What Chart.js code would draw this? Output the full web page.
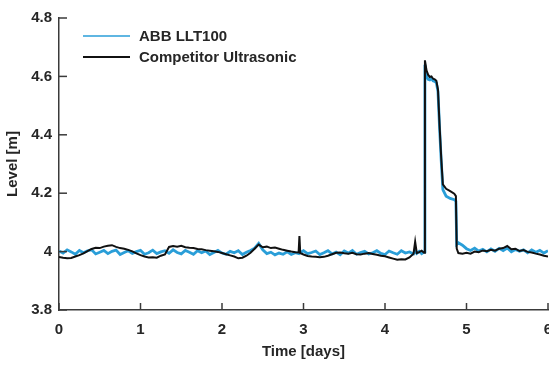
<!DOCTYPE html>
<html>
<head>
<meta charset="utf-8">
<script src="https://cdn.jsdelivr.net/npm/chart.js@4.4.1/dist/chart.umd.min.js"></script>
<style>
  body { margin: 0; background: #fff; }
  canvas { display: block; }
</style>
</head>
<body>
<canvas id="chart" width="549" height="365"></canvas>
<script>
// time axis (days), shared by both sensors
const days = [
  0.00, 0.05, 0.10, 0.15, 0.20, 0.25, 0.30, 0.35, 0.40, 0.45,
  0.50, 0.55, 0.60, 0.65, 0.70, 0.75, 0.80, 0.85, 0.90, 0.95,
  1.00, 1.05, 1.10, 1.15, 1.20, 1.25, 1.30, 1.35, 1.40, 1.45,
  1.50, 1.55, 1.60, 1.65, 1.70, 1.75, 1.80, 1.85, 1.90, 1.95,
  2.00, 2.05, 2.10, 2.15, 2.20, 2.25, 2.30, 2.35, 2.40, 2.45,
  2.50, 2.55, 2.60, 2.65, 2.70, 2.75, 2.80, 2.85, 2.90, 2.94,
  2.95, 2.96, 3.00, 3.05, 3.10, 3.15, 3.20, 3.25, 3.30, 3.35,
  3.40, 3.45, 3.50, 3.55, 3.60, 3.65, 3.70, 3.75, 3.80, 3.85,
  3.90, 3.95, 4.00, 4.05, 4.10, 4.15, 4.20, 4.25, 4.30, 4.35,
  4.37, 4.39, 4.42, 4.45, 4.48, 4.49, 4.51, 4.53, 4.55, 4.57,
  4.59, 4.61, 4.63, 4.65, 4.67, 4.69, 4.71, 4.75, 4.80, 4.85,
  4.87, 4.88, 4.90, 4.95, 5.00, 5.05, 5.10, 5.15, 5.20, 5.25,
  5.30, 5.35, 5.40, 5.45, 5.50, 5.55, 5.60, 5.65, 5.70, 5.75,
  5.80, 5.85, 5.90, 5.95, 6.00
];

// ABB LLT100 level [m]
const abb = [
  4.002, 3.995, 4.006, 3.999, 3.991, 4.004, 3.996, 4.003, 4.006, 3.992,
  3.998, 4.004, 3.993, 4.001, 4.005, 3.990, 3.997, 4.003, 3.994, 4.000,
  4.004, 3.991, 3.996, 4.005, 3.993, 3.999, 4.003, 3.994, 4.006, 3.997,
  3.992, 4.004, 3.998, 3.991, 4.003, 3.996, 4.002, 3.990, 3.997, 4.004,
  3.995, 3.991, 4.001, 3.996, 4.003, 3.990, 3.998, 4.004, 4.012, 4.028,
  4.006, 3.993, 3.998, 3.989, 3.995, 3.991, 3.999, 3.990, 3.996, 3.993,
  4.001, 3.996, 4.003, 3.993, 3.997, 4.002, 3.990, 3.996, 4.003, 3.992,
  3.998, 3.989, 4.002, 3.995, 4.004, 3.991, 3.997, 4.001, 3.992, 3.996,
  4.003, 3.994, 3.990, 4.002, 3.996, 3.991, 4.003, 3.995, 3.999, 3.992,
  4.004, 3.994, 4.001, 3.993, 3.999, 4.640, 4.600, 4.590, 4.588, 4.592,
  4.585, 4.583, 4.578, 4.548, 4.420, 4.310, 4.212, 4.190, 4.182, 4.178,
  4.172, 4.025, 4.030, 4.022, 4.010, 4.004, 4.012, 4.002, 4.008, 3.999,
  4.009, 4.001, 4.011, 4.003, 4.012, 3.999, 4.007, 4.001, 4.006, 3.996,
  4.006, 3.998, 4.004, 3.995, 4.003
];

// Competitor ultrasonic level [m]
const competitor = [
  3.982, 3.979, 3.977, 3.978, 3.983, 3.988, 3.994, 4.002, 4.009, 4.013,
  4.012, 4.017, 4.020, 4.022, 4.016, 4.012, 4.010, 4.006, 4.001, 3.994,
  3.988, 3.983, 3.980, 3.981, 3.979, 3.986, 3.990, 4.016, 4.019, 4.017,
  4.020, 4.015, 4.013, 4.012, 4.009, 4.008, 4.005, 4.003, 4.001, 3.999,
  3.995, 3.991, 3.987, 3.983, 3.977, 3.979, 3.986, 3.996, 4.010, 4.024,
  4.015, 4.017, 4.012, 4.014, 4.010, 4.006, 4.003, 4.000, 3.998, 3.997,
  4.053, 3.995, 3.990, 3.985, 3.983, 3.982, 3.981, 3.982, 3.986, 3.991,
  3.996, 3.997, 3.994, 3.993, 3.996, 3.991, 3.990, 3.993, 3.995, 3.992,
  3.989, 3.986, 3.984, 3.980, 3.976, 3.972, 3.974, 3.973, 3.980, 3.993,
  4.034, 3.995, 3.998, 4.003, 3.996, 4.655, 4.620, 4.605, 4.598, 4.600,
  4.592, 4.590, 4.585, 4.555, 4.430, 4.320, 4.230, 4.215, 4.207, 4.198,
  4.190, 4.010, 3.995, 3.993, 3.996, 3.993, 4.000, 3.998, 4.004, 4.001,
  4.006, 4.003, 4.010, 4.012, 4.019, 4.008, 4.010, 4.002, 4.005, 3.999,
  3.997, 3.993, 3.990, 3.986, 3.983
];

const xTicks = [0, 1, 2, 3, 4, 5, 6];
const yTicks = [3.8, 4.0, 4.2, 4.4, 4.6, 4.8];

const ctx = document.getElementById('chart').getContext('2d');
const FONT = { family: '"Liberation Sans", Arial, sans-serif', size: 15, weight: 'bold' };
const TEXT = '#262626';
const AXIS = '#3a3a3a';

// MATLAB style ticks pointing into the plot
const inwardTicks = {
  id: 'inwardTicks',
  afterDraw(chart) {
    const { ctx, chartArea, scales: { x, y } } = chart;
    ctx.save();
    ctx.strokeStyle = AXIS;
    ctx.lineWidth = 1.5;
    xTicks.forEach(v => {
      const px = x.getPixelForValue(v);
      ctx.beginPath();
      ctx.moveTo(px, chartArea.bottom);
      ctx.lineTo(px, chartArea.bottom - 7);
      ctx.stroke();
    });
    yTicks.forEach(v => {
      const py = y.getPixelForValue(v);
      ctx.beginPath();
      ctx.moveTo(chartArea.left, py);
      ctx.lineTo(chartArea.left + 8, py);
      ctx.stroke();
    });
    ctx.restore();
  }
};

// legend box inside the axes, top left
const innerLegend = {
  id: 'innerLegend',
  afterDraw(chart) {
    const { ctx, chartArea } = chart;
    const items = [chart.data.datasets[1], chart.data.datasets[0]];
    ctx.save();
    ctx.font = `${FONT.weight} ${FONT.size}px ${FONT.family}`;
    ctx.textBaseline = 'middle';
    ctx.fillStyle = TEXT;
    items.forEach((ds, i) => {
      const yy = chartArea.top + 18 + i * 21;
      ctx.strokeStyle = ds.borderColor;
      ctx.lineWidth = i === 0 ? 1.5 : 2;
      ctx.beginPath();
      ctx.moveTo(chartArea.left + 24, yy);
      ctx.lineTo(chartArea.left + 71, yy);
      ctx.stroke();
      ctx.fillText(ds.label, chartArea.left + 80, yy + 1);
    });
    ctx.restore();
  }
};

const data = {
  datasets: [{
    label: 'Competitor Ultrasonic',
    data: days.map((d, i) => ({ x: d, y: competitor[i] })),
    borderColor: '#111111',
    borderWidth: 2
  }, {
    label: 'ABB LLT100',
    data: days.map((d, i) => ({ x: d, y: abb[i] })),
    borderColor: '#2a9ed8',
    borderWidth: 2.8
  }]
};

const config = {
  type: 'line',
  data: data,
  options: {
    responsive: false,
    animation: false,
    layout: { padding: { top: 18, right: 1, left: 0, bottom: 0 } },
    elements: { point: { radius: 0 }, line: { tension: 0 } },
    plugins: {
      legend: { display: false },
      tooltip: { enabled: false }
    },
    scales: {
      x: {
        type: 'linear',
        min: 0,
        max: 6,
        afterBuildTicks: s => { s.ticks = xTicks.map(v => ({ value: v })); },
        afterFit: s => { s.height = 55; s.paddingLeft = 0; s.paddingRight = 0; },
        grid: { display: false, drawTicks: false },
        border: { display: true, color: AXIS, width: 1.5 },
        ticks: { color: TEXT, font: FONT, padding: 11, maxRotation: 0 },
        title: { display: true, text: 'Time [days]', color: TEXT, font: FONT, padding: { top: 4 } }
      },
      y: {
        min: 3.8,
        max: 4.8,
        afterBuildTicks: s => { s.ticks = yTicks.map(v => ({ value: v })); },
        afterFit: s => { s.width = 59; },
        grid: { display: false, drawTicks: false },
        border: { display: true, color: AXIS, width: 1.5 },
        ticks: {
          color: TEXT,
          font: FONT,
          padding: 7,
          callback: v => String(Math.round(v * 10) / 10)
        },
        title: { display: true, text: 'Level [m]', color: TEXT, font: FONT, padding: { bottom: 2 } }
      }
    }
  },
  plugins: [inwardTicks, innerLegend]
};

const myChart = new Chart(ctx, config);
</script>
</body>
</html>
